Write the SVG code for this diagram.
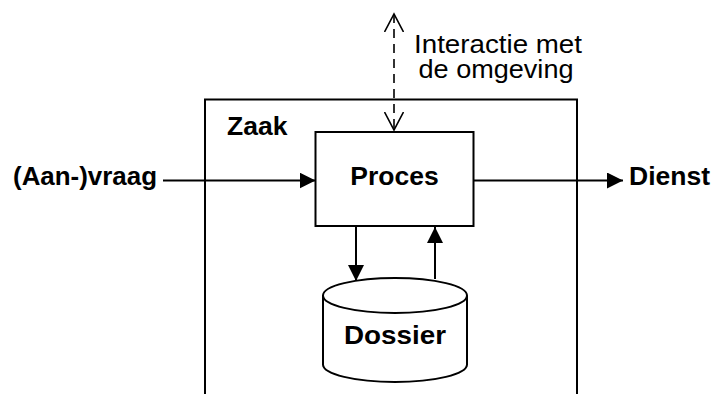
<svg xmlns="http://www.w3.org/2000/svg" width="713" height="394" viewBox="0 0 713 394">
  <style>
    .ln { fill: none; stroke: #000; stroke-width: 2; }
    .shape { fill: #fff; stroke: #000; stroke-width: 2; }
    .b { font-family: "Liberation Sans", Arial, sans-serif; font-weight: bold; font-size: 26.5px; fill: #000; }
    .r { font-family: "Liberation Sans", Arial, sans-serif; font-size: 26px; fill: #000; }
    .dash { fill: none; stroke: #000; stroke-width: 1.6; stroke-dasharray: 9 6; }
  </style>
  <defs>
    <marker id="solid" viewBox="0 0 16 16" refX="16" refY="8" markerWidth="16" markerHeight="16" markerUnits="userSpaceOnUse" orient="auto">
      <path d="M0,0 L16,8 L0,16 Z" fill="#000"/>
    </marker>
    <marker id="open" viewBox="0 0 20 20" refX="18" refY="10" markerWidth="20" markerHeight="20" markerUnits="userSpaceOnUse" orient="auto-start-reverse">
      <path d="M0,0.5 L18,10 L0,19.5" fill="none" stroke="#000" stroke-width="1.6"/>
    </marker>
  </defs>

  <g id="zaak">
    <path class="ln" d="M205,394 V99.5 H577 V394"/>
    <text class="b" x="227" y="135">Zaak</text>
  </g>

  <g id="proces">
    <rect class="shape" x="315.5" y="132" width="158" height="94"/>
    <text class="b" x="394.5" y="185" text-anchor="middle">Proces</text>
  </g>

  <g id="dossier">
    <path class="shape" d="M323,295.5 V364.5 A72,17.5 0 0 0 467,364.5 V295.5"/>
    <ellipse class="shape" cx="395" cy="295.5" rx="72" ry="17.5"/>
    <text class="b" x="395" y="344" text-anchor="middle" textLength="102" lengthAdjust="spacingAndGlyphs">Dossier</text>
  </g>

  <g id="aanvraag">
    <text class="b" x="13" y="185" textLength="144" lengthAdjust="spacingAndGlyphs">(Aan-)vraag</text>
  </g>

  <g id="dienst">
    <text class="b" x="629" y="185">Dienst</text>
  </g>

  <g id="omgeving">
    <text class="r" x="498" y="53" text-anchor="middle" textLength="168" lengthAdjust="spacingAndGlyphs">Interactie met</text>
    <text class="r" x="496" y="78" text-anchor="middle" textLength="155" lengthAdjust="spacingAndGlyphs">de omgeving</text>
  </g>

  <g id="connectors">
    <line class="ln" x1="163" y1="180.5" x2="315.5" y2="180.5" marker-end="url(#solid)"/>
    <line class="ln" x1="473.5" y1="180.5" x2="623" y2="180.5" marker-end="url(#solid)"/>
    <line class="ln" x1="356" y1="226" x2="356" y2="281" marker-end="url(#solid)"/>
    <line class="ln" x1="435" y1="279" x2="435" y2="227" marker-end="url(#solid)"/>
    <line class="dash" x1="394" y1="14" x2="394" y2="130" marker-start="url(#open)" marker-end="url(#open)"/>
  </g>
</svg>
